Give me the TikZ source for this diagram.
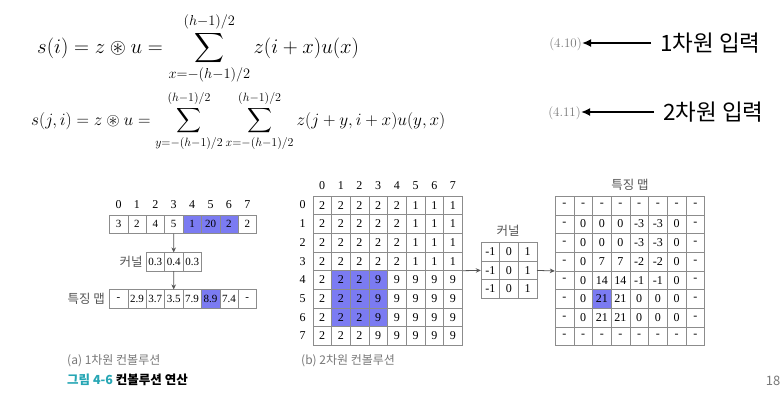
\documentclass[tikz,border=0pt]{standalone}
\usepackage{amsmath}
\usepackage{amssymb}
\usepackage{fontspec}
\usepackage{xcolor}
\usetikzlibrary{arrows.meta}
\newfontfamily\kor{Noto Sans CJK KR}
\newfontfamily\cellfont{Liberation Serif}
\definecolor{hlblue}{RGB}{123,123,242}
\definecolor{gridgray}{RGB}{140,140,140}
\definecolor{capgray}{RGB}{120,120,120}
\definecolor{labgray}{RGB}{85,85,85}
\definecolor{figteal}{RGB}{38,166,180}

\tikzset{
  cellA/.style={rectangle,draw=gridgray,inner sep=0pt,minimum width=18.4pt,minimum height=18.3pt,font=\cellfont\fontsize{11}{13}\selectfont},
  cellB/.style={rectangle,draw=gridgray,inner sep=0pt,minimum width=18.7pt,minimum height=18.7pt,font=\cellfont\fontsize{12}{14}\selectfont},
  cellK/.style={rectangle,draw=gridgray,inner sep=0pt,minimum width=18.6pt,minimum height=18.5pt,font=\cellfont\fontsize{12}{14}\selectfont},
  idx/.style={inner sep=0pt,font=\cellfont\fontsize{12}{14}\selectfont},
  klabel/.style={inner sep=0pt,text=labgray,font=\kor\fontsize{12.5}{14}\selectfont},
  eqnum/.style={inner sep=0pt,text=capgray,font=\fontsize{13}{15}\selectfont},
  inlabel/.style={inner sep=0pt,font=\kor\fontsize{22.5}{26}\selectfont}
}

\begin{document}
\begin{tikzpicture}[x=1pt,y=-1pt]
\useasboundingbox (0,0) rectangle (783,402);

% equations
\node[anchor=base west,inner sep=0pt] (eqA) at (37,53) {\huge $\displaystyle s(i)=z\circledast u=\sum_{x=-(h-1)/2}^{(h-1)/2} z(i+x)u(x)$};
\node[anchor=base west,inner sep=0pt] (eqB) at (31,125) {\LARGE $\displaystyle s(j,i)=z\circledast u=\sum_{y=-(h-1)/2}^{(h-1)/2}\sum_{x=-(h-1)/2}^{(h-1)/2} z(j+y,i+x)u(y,x)$};

\node[eqnum,anchor=east] (numA) at (582,44) {(4.10)};
\node[eqnum,anchor=east] (numB) at (581,113) {(4.11)};
\node[inlabel,anchor=west] (inA) at (660,43) {1차원 입력};
\node[inlabel,anchor=west] (inB) at (663,112) {2차원 입력};

\begin{scope}[>={Latex[length=9pt,width=8pt]},
              every edge/.style={draw=black,line width=2pt}]
    \path [->] (inA.west) ++(-9,0) coordinate (tA) edge (numA.east |- tA);
    \path [->] (inB.west) ++(-9,0) coordinate (tB) edge (numB.east |- tB);
\end{scope}

% 1D convolution
\foreach \v/\f [count=\i from 0] in {3/white,2/white,4/white,5/white,1/hlblue,20/hlblue,2/hlblue,2/white}{
    \node[cellA,fill=\f] (a\i) at (118.5+18.4*\i,224.2) {\v};
    \node[idx] (ai\i) at (118.5+18.4*\i,205) {\i};
}
\foreach \v [count=\i from 0] in {0.3,0.4,0.3}
    \node[cellA] (k\i) at (155.2+18.5*\i,261.8) {\v};
\foreach \v/\f [count=\i from 0] in {-/white,2.9/white,3.7/white,3.5/white,7.9/white,8.9/hlblue,7.4/white,-/white}
    \node[cellA,fill=\f] (f\i) at (118.5+18.4*\i,298.8) {\v};
\node[klabel,anchor=east] (klA) at ([xshift=-3pt]k0.west) {커널};
\node[klabel,anchor=east] (flA) at ([xshift=-4pt]f0.west) {특징 맵};

% 2D convolution
\foreach \row [count=\r from 0] in {{2,2,2,2,2,1,1,1},{2,2,2,2,2,1,1,1},{2,2,2,2,2,1,1,1},{2,2,2,2,2,1,1,1},
                                    {2,2,2,9,9,9,9,9},{2,2,2,9,9,9,9,9},{2,2,2,9,9,9,9,9},{2,2,2,9,9,9,9,9}}{
    \node[idx] (gr\r) at (302.7,205.05+18.7*\r) {\r};
    \node[idx] (gc\r) at (322.05+18.7*\r,186) {\r};
    \foreach \v [count=\c from 0] in \row {
        \def\cf{white}
        \ifnum\r>3 \ifnum\r<7 \ifnum\c>0 \ifnum\c<4 \def\cf{hlblue}\fi\fi\fi\fi
        \node[cellB,fill=\cf] (g-\r-\c) at (322.05+18.7*\c,205.05+18.7*\r) {\v};
    }
}
\foreach \r in {0,1,2}
    \foreach \v [count=\c from 0] in {-1,0,1}
        \node[cellK] (kk-\r-\c) at (490.3+18.6*\c,251.9+18.5*\r) {\v};
\node[klabel] (klB) at (508,231) {커널};

\foreach \row [count=\r from 0] in {{-,-,-,-,-,-,-,-},{-,0,0,0,-3,-3,0,-},{-,0,0,0,-3,-3,0,-},{-,0,7,7,-2,-2,0,-},
                                    {-,0,14,14,-1,-1,0,-},{-,0,21,21,0,0,0,-},{-,0,21,21,0,0,0,-},{-,-,-,-,-,-,-,-}}{
    \foreach \v [count=\c from 0] in \row {
        \def\cf{white}
        \ifnum\r=5 \ifnum\c=2 \def\cf{hlblue}\fi\fi
        \node[cellB,fill=\cf] (m-\r-\c) at (564.35+18.7*\c,205.35+18.7*\r) {\v};
    }
}
\node[klabel] (flB) at (630,185) {특징 맵};

\begin{scope}[>={Stealth[length=5pt,width=4.5pt]},
              every edge/.style={draw=labgray,thick}]
    \path [->] (a3.south) edge (k1.north);
    \path [->] (k1.south) edge (f3.north);
    \path [->] (g-3-7.south east) edge (kk-1-0.west);
    \path [->] (kk-1-2.east) edge (m-3-0.south west);
\end{scope}

% captions
\node[anchor=west,inner sep=0pt,text=capgray,font=\kor\fontsize{12}{14}\selectfont] (capA) at (67,361) {(a) 1차원 컨볼루션};
\node[anchor=west,inner sep=0pt,text=capgray,font=\kor\fontsize{12}{14}\selectfont] (capB) at (301,361) {(b) 2차원 컨볼루션};
\node[anchor=west,inner sep=0pt,font=\kor\bfseries\fontsize{12.5}{14}\selectfont] (figcap) at (67,380) {\textcolor{figteal}{그림 4-6} 컨볼루션 연산};
\node[inner sep=0pt,text=capgray,font=\kor\fontsize{13}{15}\selectfont] (pageno) at (773,381) {18};
\end{tikzpicture}
\end{document}
